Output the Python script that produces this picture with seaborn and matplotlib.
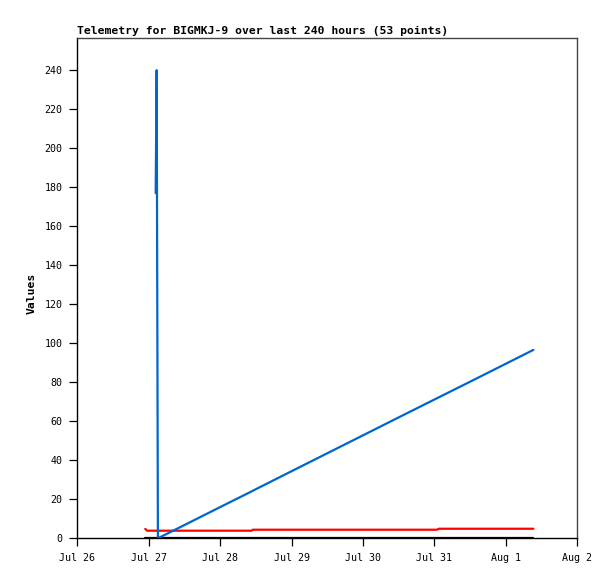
import pandas as pd
import numpy as np
import matplotlib
matplotlib.use("Agg")
import matplotlib.pyplot as plt
import matplotlib.dates as mdates
import seaborn as sns

# Telemetry readings
times = [
    "2024-07-26 22:50", "2024-07-26 23:30", "2024-07-27 02:20", "2024-07-27 02:40",
    "2024-07-27 03:05", "2024-07-27 12:00", "2024-07-28 00:00", "2024-07-28 10:30",
    "2024-07-28 11:00", "2024-07-28 21:00", "2024-07-29 12:00", "2024-07-30 00:00",
    "2024-07-30 12:00", "2024-07-31 00:50", "2024-07-31 01:30", "2024-07-31 12:00",
    "2024-08-01 00:00", "2024-08-01 09:15",
]
blue_vals = [np.nan, np.nan, 177, 240, 0, 6.8, 16.0, 24.0,
             24.4, 32.1, 43.6, 52.8, 62.0, 71.8, 72.3, 80.3, 89.5, 96.6]
red_vals = [4.8, 3.9, 3.9, 3.9, 3.9, 3.9, 3.9, 3.9,
            4.4, 4.4, 4.4, 4.4, 4.4, 4.4, 4.9, 4.9, 4.9, 4.9]
black_vals = [0, 0, 0, 0, 0, 0, 0, 0, 0, 0, 0, 0, 0, 0, 0, 0, 0, 0]

series_names = ["black", "red", "blue"]
series_colors = ["#000000", "#ff0000", "#0066cc"]

df = pd.DataFrame({
    "time": pd.to_datetime(times * 3),
    "value": black_vals + red_vals + blue_vals,
    "series": [n for n in series_names for _ in times],
}).dropna()

sns.set_style("white")
plt.rcParams["text.color"] = "black"
plt.rcParams["xtick.color"] = "black"
plt.rcParams["ytick.color"] = "black"
plt.rcParams["axes.labelcolor"] = "black"
mono = "DejaVu Sans Mono"

fig = plt.figure(figsize=(6.15, 5.79), dpi=100)
ax = fig.add_axes([77.3 / 615, 1 - 538.3 / 579, 500 / 615, 500.3 / 579])

sns.lineplot(data=df, x="time", y="value", hue="series",
             hue_order=series_names, palette=series_colors,
             linewidth=1.6, legend=False, ax=ax, sort=False)

ax.set_xlim(pd.Timestamp("2024-07-26"), pd.Timestamp("2024-08-02"))
ax.set_ylim(0, 256.5)
ax.set_yticks(range(0, 241, 20))
ax.xaxis.set_major_locator(mdates.DayLocator())
ax.xaxis.set_major_formatter(mdates.DateFormatter("%b %-d"))

for side in ["left", "bottom"]:
    ax.spines[side].set_color("black")
    ax.spines[side].set_linewidth(1.0)
for side in ["top", "right"]:
    ax.spines[side].set_color("#444444")
    ax.spines[side].set_linewidth(1.0)

ax.tick_params(axis="both", which="major", bottom=True, left=True,
               top=False, right=False, direction="out", length=5.5,
               width=0.9, color="black", labelcolor="black",
               labelsize=7.2, pad=5)
ax.tick_params(axis="x", pad=5)
for lab in ax.get_xticklabels() + ax.get_yticklabels():
    lab.set_fontfamily(mono)

ax.set_xlabel("")
ax.set_ylabel("Values", fontfamily=mono, fontweight="bold", fontsize=8.2,
              color="black")
ax.yaxis.set_label_coords(-0.081, 0.49)

fig.text(77 / 615, 1 - 31 / 579,
         "Telemetry for BIGMKJ-9 over last 240 hours (53 points)",
         fontfamily=mono, fontweight="bold", fontsize=8.2, color="black",
         ha="left", va="center")

fig.savefig("out.png", dpi=100)
